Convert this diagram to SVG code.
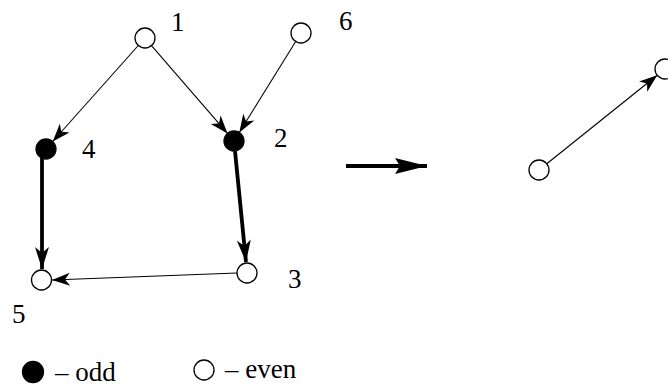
<svg xmlns="http://www.w3.org/2000/svg" width="668" height="387" viewBox="0 0 668 387">
<style>
.n{stroke:#000;stroke-width:1.3}
.e{fill:#fff}
.o{fill:#000}
.t{font-family:"Liberation Serif","Times New Roman",serif;font-size:27px;fill:#000}
.thin{stroke:#000;stroke-width:1.1;fill:none}
.thick{stroke:#000;stroke-width:3.8;fill:none}
</style>
<defs>
<marker id="a" markerUnits="userSpaceOnUse" viewBox="-20 -8 21 16" refX="0" refY="0" markerWidth="21" markerHeight="16" orient="auto">
<path d="M0,0 L-18,-6.5 L-13,0 L-18,6.5 Z" fill="#000"/>
</marker>
<marker id="b" markerUnits="userSpaceOnUse" viewBox="-24 -9 25 18" refX="0" refY="0" markerWidth="25" markerHeight="18" orient="auto">
<path d="M0,0 L-22,-7 L-16,0 L-22,7 Z" fill="#000"/>
</marker>
<marker id="c" markerUnits="userSpaceOnUse" viewBox="-34 -9 35 18" refX="0" refY="0" markerWidth="35" markerHeight="18" orient="auto">
<path d="M0,0 L-32,-8 L-27,0 L-32,8 Z" fill="#000"/>
</marker>
</defs>
<g id="connectors">
<line class="thin" x1="138.3" y1="45.5" x2="52.7" y2="141.5" marker-end="url(#a)"/>
<line class="thin" x1="151.5" y1="45.6" x2="227.5" y2="133.4" marker-end="url(#a)"/>
<line class="thin" x1="295.7" y1="41.5" x2="239.3" y2="132.5" marker-end="url(#a)"/>
<line class="thick" x1="235" y1="151" x2="246" y2="262" marker-end="url(#b)"/>
<line class="thick" x1="42" y1="158" x2="42" y2="269" marker-end="url(#b)"/>
<line class="thin" x1="237" y1="273" x2="52" y2="280" marker-end="url(#a)"/>
<line class="thin" x1="546.8" y1="163.8" x2="657.2" y2="75.3" marker-end="url(#a)"/>
<line class="thick" x1="346" y1="166" x2="427" y2="166" marker-end="url(#c)"/>
</g>
<g id="node1"><circle class="n e" cx="145" cy="38" r="10"/><text class="t" x="171" y="31">1</text></g>
<g id="node6"><circle class="n e" cx="301" cy="33" r="10"/><text class="t" x="339" y="30">6</text></g>
<g id="node4"><circle class="n o" cx="46" cy="149" r="10"/><text class="t" x="82" y="158">4</text></g>
<g id="node2"><circle class="n o" cx="234" cy="141" r="10"/><text class="t" x="274" y="147">2</text></g>
<g id="node3"><circle class="n e" cx="247" cy="273" r="10"/><text class="t" x="288" y="288">3</text></g>
<g id="node5"><circle class="n e" cx="41.5" cy="280" r="10"/><text class="t" x="12" y="323">5</text></g>
<g id="nodeA"><circle class="n e" cx="539" cy="170" r="10"/></g>
<g id="nodeB"><circle class="n e" cx="665" cy="69" r="10"/></g>
<g id="legend">
<circle class="n o" cx="33" cy="372" r="10.5"/><text class="t" x="55" y="381">– odd</text>
<circle class="n e" cx="204" cy="370" r="10"/><text class="t" x="225" y="378">– even</text>
</g>
</svg>
